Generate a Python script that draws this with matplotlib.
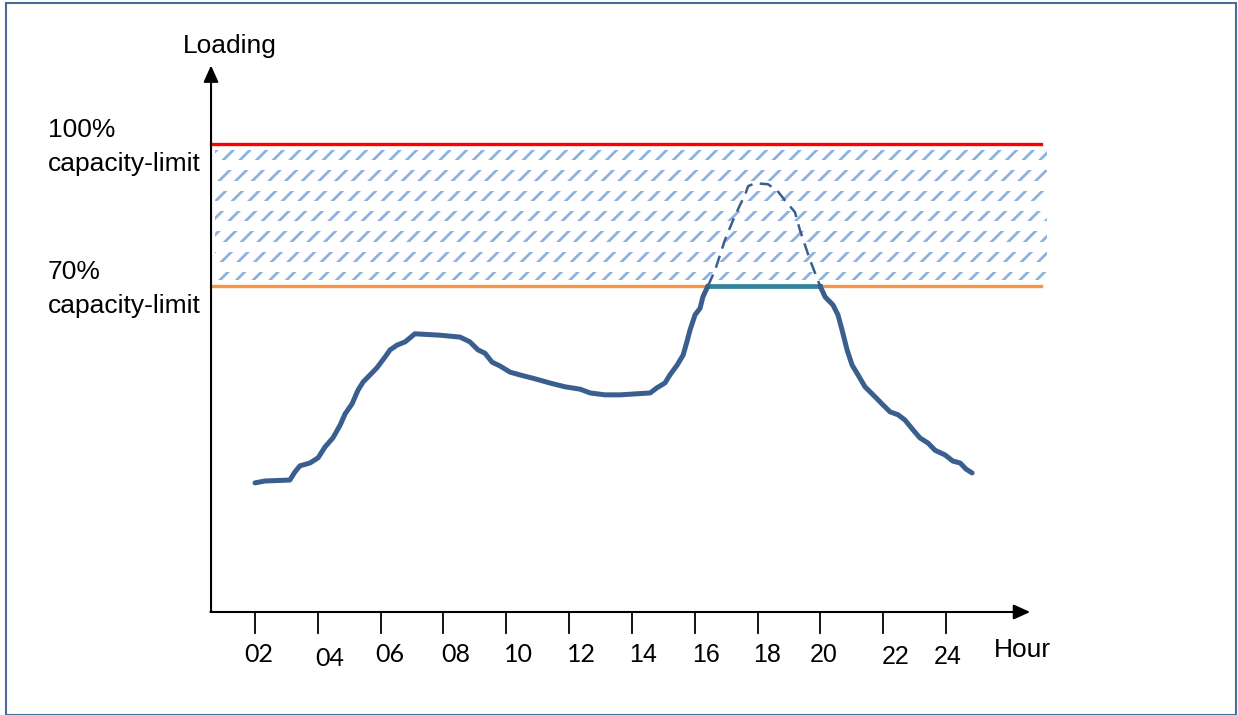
import matplotlib
matplotlib.use("Agg")
import numpy as np
import matplotlib.pyplot as plt
from matplotlib.patches import Rectangle

# loading curve, hours vs % of capacity
hours_am = [2.00, 2.32, 3.11, 3.27, 3.43, 3.75, 4.01, 4.23, 4.48, 4.71, 4.87, 5.09,
            5.28, 5.44, 5.66, 5.88, 6.14, 6.30, 6.52, 6.78, 7.09, 7.89, 8.53, 8.84,
            9.10, 9.32, 9.55, 9.80, 10.12, 10.44, 10.91, 11.39, 11.87, 12.35, 12.67,
            13.14, 13.62, 14.58, 14.80, 15.05, 15.21, 15.44, 15.63, 15.75, 15.85,
            16.01, 16.17, 16.26, 16.42]
load_am = [28.4, 28.8, 29.0, 30.7, 32.0, 32.6, 33.7, 36.0, 37.9, 40.6, 43.0, 45.1,
           48.0, 49.7, 51.2, 52.7, 55.0, 56.5, 57.5, 58.2, 59.9, 59.6, 59.2, 58.2,
           56.5, 55.8, 53.9, 53.1, 51.8, 51.2, 50.4, 49.5, 48.7, 48.2, 47.4,
           47.0, 47.0, 47.4, 48.5, 49.5, 51.2, 53.3, 55.4, 58.2, 60.7,
           63.9, 65.3, 67.7, 70.0]

# unconstrained peak (dashed)
hours_peak = [16.42, 16.65, 16.96, 17.22, 17.44, 17.60, 17.70, 17.92, 18.33, 18.62,
              18.87, 19.19, 19.35, 19.67, 19.99]
load_peak = [70.0, 73.4, 79.7, 83.9, 87.1, 89.2, 91.1, 91.7, 91.5, 90.2,
             88.1, 85.6, 81.8, 75.5, 70.0]

hours_pm = [19.99, 20.15, 20.40, 20.56, 20.69, 20.85, 21.01, 21.20, 21.42, 21.74,
            21.99, 22.22, 22.47, 22.69, 22.95, 23.17, 23.43, 23.65, 23.97, 24.22,
            24.45, 24.64, 24.83]
load_pm = [70.0, 67.7, 66.0, 63.9, 60.7, 56.5, 53.3, 51.2, 48.7, 46.6,
           44.9, 43.4, 42.8, 41.7, 39.6, 37.9, 36.8, 35.3, 34.3, 33.0,
           32.6, 31.3, 30.5]

limit_high = 100
limit_low = 70
tick_hours = [2, 4, 6, 8, 10, 12, 14, 16, 18, 20, 22, 24]
tick_labels = ["02", "04", "06", "08", "10", "12", "14", "16", "18", "20", "22", "24"]
label_dx = [0.12, 0.38, 0.30, 0.38, 0.38, 0.38, 0.35, 0.35, 0.29, 0.10, 0.38, 0.06]
label_dy = [0, -0.8, 0, 0, 0, 0, 0, 0, 0, 0, -0.4, -0.4]
label_font = ["Lato"] * 6 + ["Liberation Sans"] * 6

# pixel scale of the reference drawing
px_h = 31.41      # px per hour
px_p = 4.733      # px per %
W, H = 1238, 715

plt.rcParams["hatch.linewidth"] = 2.0

fig = plt.figure(figsize=(W / 100, H / 100), dpi=100)
ax = fig.add_axes([0, 0, 1, 1])
ax.set_xlim(2 - 255 / px_h, 2 + (W - 255) / px_h)
ax.set_ylim(-(H - 617.3) / px_p, 100 + 144 / px_p)
ax.axis("off")

x0 = 0.60     # y-axis position (hour)
y0 = 1.12     # x-axis position (%)

# band between limits
band = Rectangle((0.73, 71.2), 27.21 - 0.73, 98.7 - 71.2, facecolor="none",
                 edgecolor="#8FB1DE", hatch="//", linewidth=0, zorder=1)
ax.add_patch(band)
# white gaps between hatch rows
for k in range(7):
    top = 98.7 - k * 20.35 / px_p - 10 / px_p
    bot = top - 10.0 / px_p
    ax.fill_between([0.7, 27.3], max(bot, 71.2), top, color="white", lw=0, zorder=2)

ax.plot([x0, 27.02], [limit_high, limit_high], color="#FF0000", lw=2.4, zorder=3)
ax.plot([x0, 27.02], [limit_low, limit_low], color="#F79646", lw=2.4, zorder=3)

# axes with arrows
ax.annotate("", xy=(x0, 116.6), xytext=(x0, y0),
            arrowprops=dict(arrowstyle="-|>,head_length=1.0,head_width=0.45",
                            color="black", lw=1.5, shrinkA=0, shrinkB=0))
ax.annotate("", xy=(26.68, y0), xytext=(x0 - 0.02, y0),
            arrowprops=dict(arrowstyle="-|>,head_length=1.0,head_width=0.45",
                            color="black", lw=1.5, shrinkA=0, shrinkB=0))
for h, lab, dx, dy, fnt in zip(tick_hours, tick_labels, label_dx, label_dy, label_font):
    ax.plot([h, h], [y0, y0 - 21 / px_p], color="black", lw=1.3)
    ax.text(h + dx, -7.9 + dy, lab, ha="center", va="center", fontsize=18,
            family=fnt)

ax.text(26.42, -7.0, "Hour", ha="center", va="center", fontsize=19,
        family="Liberation Sans")
ax.text(-0.29, 120.7, "Loading", ha="left", va="center", fontsize=19,
        family="Liberation Sans")
for lev, yy in [(limit_high, 102.96), (limit_low, 72.96)]:
    ax.text(-4.59, yy, f"{lev}%", ha="left", va="center", fontsize=19,
            family="Liberation Sans")
    ax.text(-4.59, yy - 7.2, "capacity-limit", ha="left", va="center", fontsize=19,
            family="Liberation Sans")

# load curve
ax.plot(hours_am, load_am, color="#3A5F8F", lw=3.6, zorder=5,
        solid_capstyle="round", solid_joinstyle="round")
ax.plot(hours_pm, load_pm, color="#3A5F8F", lw=3.6, zorder=5,
        solid_capstyle="round", solid_joinstyle="round")
ax.plot(hours_peak, load_peak, color="#3A5F8F", lw=1.8, ls=(0, (5, 3)), zorder=5)
ax.plot([hours_peak[0], hours_peak[-1]], [limit_low, limit_low], color="#31849B",
        lw=3.4, zorder=4)

# outer frame
fig.add_artist(Rectangle((6 / W, 0), (1236 - 6) / W, 1 - 3 / H, transform=fig.transFigure,
                         fill=False, edgecolor="#4A6C9B", lw=1.5))

fig.savefig("out.png", dpi=100)
